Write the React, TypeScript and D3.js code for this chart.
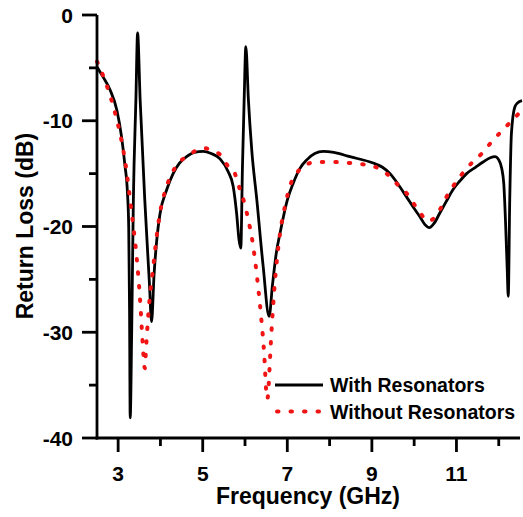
import React from "react";
import * as d3 from "d3";

// With Resonators (frequency GHz, return loss dB)
const withFreq = [2.5, 2.65, 2.81, 2.97, 3.08, 3.16, 3.22, 3.25, 3.27, 3.285, 3.32, 3.36, 3.42, 3.46, 3.52, 3.63, 3.74, 3.79, 3.85, 3.92, 3.99, 4.15, 4.3, 4.45, 4.62, 4.8, 5.01, 5.2, 5.41, 5.6, 5.72, 5.8, 5.86, 5.9, 5.94, 5.98, 6.02, 6.08, 6.16, 6.28, 6.43, 6.57, 6.65, 6.74, 6.83, 7.0, 7.14, 7.3, 7.46, 7.65, 7.85, 8.1, 8.48, 9.03, 9.25, 9.43, 9.62, 9.82, 10.0, 10.14, 10.25, 10.36, 10.47, 10.61, 10.75, 10.92, 11.08, 11.24, 11.45, 11.63, 11.8, 11.91, 12.0, 12.07, 12.12, 12.16, 12.2, 12.225, 12.26, 12.3, 12.38, 12.45, 12.55];
const withDb = [-4.9, -5.9, -7.1, -9.0, -11.5, -14.2, -16.8, -20.0, -28.0, -38.1, -30.0, -17.5, -8.0, -1.7, -8.0, -17.5, -25.4, -29.0, -24.5, -21.0, -18.8, -16.5, -15.0, -14.0, -13.4, -13.0, -12.9, -13.1, -13.6, -14.8, -16.2, -18.7, -21.3, -22.05, -14.3, -8.0, -3.0, -8.0, -12.8, -17.5, -23.8, -28.5, -25.5, -22.5, -20.6, -17.5, -15.9, -14.5, -13.7, -13.1, -12.9, -13.0, -13.4, -14.0, -14.4, -15.0, -16.0, -17.2, -18.3, -19.1, -19.8, -20.1, -19.7, -18.7, -17.7, -16.5, -15.7, -15.0, -14.4, -13.9, -13.5, -13.4, -13.7, -14.5, -16.0, -19.5, -24.0, -26.6, -17.5, -11.2, -8.7, -8.3, -8.1];

// Without Resonators
const withoutFreq = [2.5, 2.65, 2.8, 2.95, 3.1, 3.2, 3.28, 3.36, 3.44, 3.52, 3.58, 3.63, 3.66, 3.71, 3.83, 3.99, 4.1, 4.27, 4.45, 4.62, 4.85, 5.05, 5.25, 5.41, 5.6, 5.72, 5.88, 6.0, 6.08, 6.18, 6.31, 6.38, 6.46, 6.5, 6.53, 6.56, 6.59, 6.64, 6.69, 6.83, 6.95, 7.06, 7.2, 7.38, 7.69, 8.08, 8.48, 9.03, 9.2, 9.35, 9.6, 9.82, 10.0, 10.14, 10.33, 10.47, 10.61, 10.75, 10.92, 11.12, 11.36, 11.6, 11.81, 12.04, 12.26, 12.55];
const withoutDb = [-4.4, -5.8, -7.5, -9.6, -12.3, -14.8, -17.4, -20.0, -23.0, -27.0, -31.0, -33.4, -31.5, -28.5, -23.8, -18.7, -16.8, -15.0, -13.9, -13.4, -12.8, -12.6, -12.9, -13.2, -14.3, -14.65, -16.5, -18.0, -19.4, -21.5, -25.7, -28.5, -32.5, -35.5, -36.3, -35.0, -32.6, -29.0, -26.1, -20.6, -18.0, -16.2, -15.1, -14.3, -13.9, -13.9, -14.0, -14.3, -14.6, -15.0, -16.0, -16.85, -17.9, -18.7, -19.5, -19.2, -18.4, -17.3, -16.2, -15.1, -14.0, -13.1, -12.1, -11.1, -10.2, -9.0];

const xMajor = [3, 5, 7, 9, 11];
const xMinor = [4, 6, 8, 10, 12];
const yMajor = [0, -10, -20, -30, -40];
const yMinor = [-5, -15, -25, -35];

const seriesNames = ["With Resonators", "Without Resonators"];

export default function App() {
  const W = 523, H = 517;
  const x = d3.scaleLinear().domain([2.5, 12.55]).range([97, 522]);
  const y = d3.scaleLinear().domain([0, -40]).range([15, 438]);
  const font = "'Liberation Sans', Arial, sans-serif";

  const line = d3
    .line<[number, number]>()
    .x((d) => x(d[0]))
    .y((d) => y(d[1]))
    .curve(d3.curveMonotoneX);

  const withData: [number, number][] = withFreq.map((f, i) => [f, withDb[i]]);
  const withoutData: [number, number][] = withoutFreq.map((f, i) => [f, withoutDb[i]]);

  const axisY = y(-40);
  const axisX = x(2.5);
  const red = "#f01414";

  return (
    <svg
      width={W}
      height={H}
      style={{ position: "absolute", left: 0, top: 0, background: "#fff" }}
      fontFamily={font}
      fontWeight="bold"
    >
      <rect x={0} y={0} width={W} height={H} fill="#fff" />
      {/* curves */}
      <path d={line(withData) || ""} fill="none" stroke="#000" strokeWidth={2.8} strokeLinejoin="round" />
      <path
        d={line(withoutData) || ""}
        fill="none"
        stroke={red}
        strokeWidth={4}
        strokeLinecap="round"
        strokeDasharray="1.5 12"
      />

      {/* axes */}
      <line x1={axisX} x2={axisX} y1={y(0)} y2={axisY + 1.4} stroke="#000" strokeWidth={2.8} />
      <line x1={axisX - 1.4} x2={520} y1={axisY} y2={axisY} stroke="#000" strokeWidth={2.8} />
      {yMajor.map((v) => (
        <g key={"ym" + v}>
          <line x1={axisX - 15} x2={axisX} y1={y(v)} y2={y(v)} stroke="#000" strokeWidth={2.8} />
          <text x={73} y={y(v)} dy="0.36em" textAnchor="end" fontSize={21}>
            {v}
          </text>
        </g>
      ))}
      {yMinor.map((v) => (
        <line key={"yn" + v} x1={axisX - 8} x2={axisX} y1={y(v)} y2={y(v)} stroke="#000" strokeWidth={2.8} />
      ))}
      {xMajor.map((v) => (
        <g key={"xm" + v}>
          <line x1={x(v)} x2={x(v)} y1={axisY} y2={axisY + 14} stroke="#000" strokeWidth={2.8} />
          <text x={x(v)} y={481} textAnchor="middle" fontSize={21}>
            {v}
          </text>
        </g>
      ))}
      {xMinor.map((v) => (
        <line key={"xn" + v} x1={x(v)} x2={x(v)} y1={axisY} y2={axisY + 8} stroke="#000" strokeWidth={2.8} />
      ))}

      {/* axis titles */}
      <text x={308} y={504} textAnchor="middle" fontSize={23}>
        Frequency (GHz)
      </text>
      <text transform="translate(32.5,226) rotate(-90)" textAnchor="middle" fontSize={23}>
        Return Loss (dB)
      </text>

      {/* legend */}
      <line x1={275} x2={323} y1={385} y2={385} stroke="#000" strokeWidth={2.8} />
      <text x={330} y={392} fontSize={19.5}>
        {seriesNames[0]}
      </text>
      <line
        x1={277}
        x2={323}
        y1={411.5}
        y2={411.5}
        stroke={red}
        strokeWidth={4}
        strokeLinecap="round"
        strokeDasharray="1.5 12"
      />
      <text x={330} y={418.5} fontSize={19.5}>
        {seriesNames[1]}
      </text>
    </svg>
  );
}
